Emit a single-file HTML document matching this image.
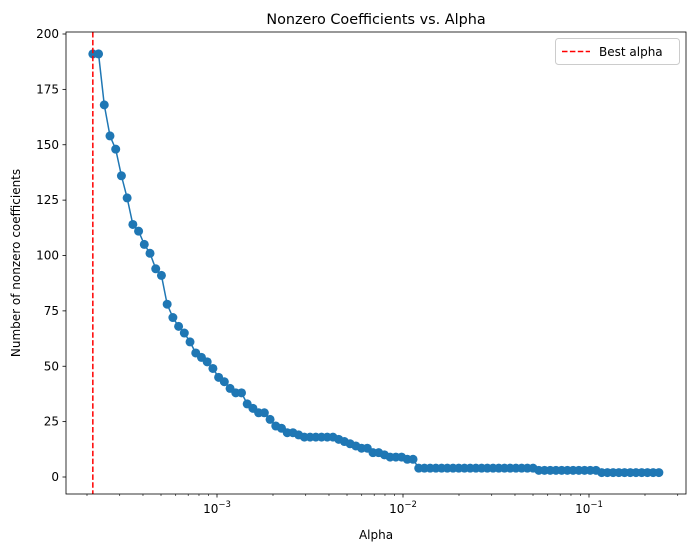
<!DOCTYPE html>
<html><head><meta charset="utf-8"><style>
body{margin:0;background:#fff;}
svg text{font-family:"DejaVu Sans","Liberation Sans",sans-serif;}
</style></head><body>
<svg id="chart" width="695" height="552" xmlns="http://www.w3.org/2000/svg"></svg>
<script>
const alphaMin = 2.15e-4;
const alphaMax = 0.2375;
const coefCounts = [191,191,168,154,148,136,126,114,111,105,101,94,91,78,72,68,65,61,56,54,52,49,45,43,40,38,38,33,31,29,29,26,23,22,20,20,19,18,18,18,18,18,18,17,16,15,14,13,13,11,11,10,9,9,9,8,8,
4,4,4,4,4,4,4,4,4,4,4,4,4,4,4,4,4,4,4,4,4,
3,3,3,3,3,3,3,3,3,3,3,
2,2,2,2,2,2,2,2,2,2,2];
const yTicks = [0,25,50,75,100,125,150,175,200];
const xTickExps = [-3,-2,-1];
const bestAlpha = alphaMin;

const svg = document.getElementById('chart');
const NS = 'http://www.w3.org/2000/svg';
const L=66,R=686,T=32,B=494;
function xs(a){return 217 + (Math.log10(a)+3)*186;}
function ys(v){return 477 - v*(443/200);}
function mk(tag, at, parent){const e=document.createElementNS(NS,tag);for(const k in at)e.setAttribute(k,at[k]);(parent||svg).appendChild(e);return e;}

const n = coefCounts.length;
const alphas = coefCounts.map((_,i)=>Math.pow(10, Math.log10(alphaMin) + i*(Math.log10(alphaMax)-Math.log10(alphaMin))/(n-1)));

for (let e=-4;e<=-1;e++){for(let m=2;m<=9;m++){const x=xs(m*Math.pow(10,e));if(x<L||x>R)continue;
 const t=mk('line',{x1:x,x2:x,y1:B,y2:B+2,stroke:'#000','stroke-width':0.6});
 
 }}
xTickExps.forEach(e=>{const x=xs(Math.pow(10,e));
 const t=mk('line',{x1:x,x2:x,y1:B,y2:B+3.5,stroke:'#000','stroke-width':0.8});
 
 
 const tx=mk('text',{x:x,y:B+19,'font-size':12,'text-anchor':'middle'});
 
 
 tx.innerHTML='10<tspan dy="-6" font-size="8.5">−'+(-e)+'</tspan>';});
yTicks.forEach(v=>{const y=ys(v);
 const t=mk('line',{x1:L-3.5,x2:L,y1:y,y2:y,stroke:'#000','stroke-width':0.8});
 
 
 const tx=mk('text',{x:L-7,y:y+4,'font-size':12,'text-anchor':'end'});
 
 
 tx.textContent=v;});

const pts=alphas.map((a,i)=>xs(a)+','+ys(coefCounts[i])).join(' ');
const pl=mk('polyline',{points:pts,fill:'none',stroke:'#1f77b4','stroke-width':1.5});


alphas.forEach((a,i)=>{const c=mk('circle',{cx:xs(a),cy:ys(coefCounts[i]),r:4.5,fill:'#1f77b4'});
 
 });

const bx=xs(bestAlpha);
const bl=mk('line',{x1:bx,x2:bx,y1:T,y2:B,stroke:'#ff0000','stroke-width':1.5,'stroke-dasharray':'5.5,2.4'});



const fr=mk('rect',{x:L,y:T,width:R-L,height:B-T,fill:'none',stroke:'#000','stroke-width':0.8});



const tt=mk('text',{x:(L+R)/2,y:24,'font-size':14.4,'text-anchor':'middle'});


tt.textContent='Nonzero Coefficients vs. Alpha';
const xl=mk('text',{x:(L+R)/2,y:539,'font-size':12,'text-anchor':'middle'});


xl.textContent='Alpha';
const yl=mk('text',{x:20,y:(T+B)/2,'font-size':12,'text-anchor':'middle',transform:'rotate(-90 20 '+((T+B)/2)+')'});


yl.textContent='Number of nonzero coefficients';

const lg=mk('g',{});


mk('rect',{x:555.5,y:38.5,width:124,height:26,rx:3,fill:'#fff',stroke:'#ccc','stroke-width':1},lg);
const ll=mk('line',{x1:562,x2:590,y1:51.5,y2:51.5,stroke:'#ff0000','stroke-width':1.5,'stroke-dasharray':'5.5,2.4'},lg);


const lt=mk('text',{x:599,y:56,'font-size':12},lg);


lt.textContent='Best alpha';
</script>
</body></html>
